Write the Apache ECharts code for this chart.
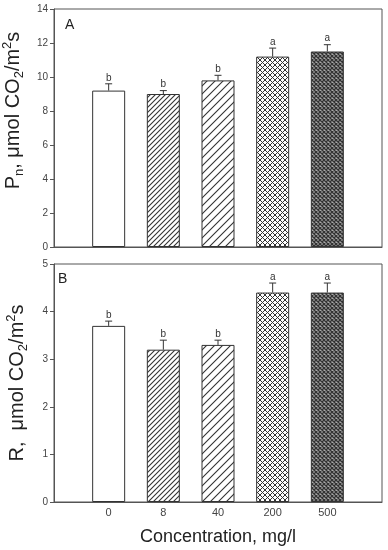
<!DOCTYPE html>
<html><head><meta charset="utf-8">
<script src="https://cdn.jsdelivr.net/npm/echarts@6/dist/echarts.min.js"></script>
<style>html,body{margin:0;padding:0;background:#fff}#c{width:388px;height:550px}</style>
</head><body><div id="c"></div>
<script>
var categories = ['0', '8', '40', '200', '500'];
var pnValues = [9.2, 9.0, 9.8, 11.2, 11.5];
var pnErrTops = [9.6, 9.2, 10.1, 11.7, 11.9];
var pnLetters = ['b', 'b', 'b', 'a', 'a'];
var rValues = [3.7, 3.2, 3.3, 4.4, 4.4];
var rErrTops = [3.8, 3.4, 3.4, 4.6, 4.6];
var rLetters = ['b', 'b', 'b', 'a', 'a'];
var pnTicks = [0, 14, 2];
var rTicks = [0, 5, 1];

function hatch(p, lw) {
  var c = document.createElement('canvas'); c.width = p; c.height = p;
  var g = c.getContext('2d'); g.fillStyle = '#fff'; g.fillRect(0, 0, p, p);
  g.strokeStyle = '#333'; g.lineWidth = lw;
  g.beginPath();
  g.moveTo(-1, p + 1); g.lineTo(p + 1, -1);
  g.moveTo(-1, 1); g.lineTo(1, -1);
  g.moveTo(p - 1, p + 1); g.lineTo(p + 1, p - 1);
  g.stroke();
  return c;
}
function cross(p, lw, bg, col) {
  var c = document.createElement('canvas'); c.width = p; c.height = p;
  var g = c.getContext('2d'); g.fillStyle = bg; g.fillRect(0, 0, p, p);
  g.strokeStyle = col; g.lineWidth = lw;
  g.beginPath();
  for (var k = -1; k <= 1; k++) {
    g.moveTo(k * p - 1, p + 1); g.lineTo(k * p + p + 1, -1);
    g.moveTo(k * p - 1, -1); g.lineTo(k * p + p + 1, p + 1);
  }
  g.stroke();
  return c;
}
var fills = [
  '#ffffff',
  { image: hatch(5, 1.1), repeat: 'repeat' },
  { image: hatch(8, 1.1), repeat: 'repeat' },
  { image: cross(5, 1.0, '#fff', '#333'), repeat: 'repeat' },
  { image: cross(4, 1.3, '#aaa', '#333'), repeat: 'repeat' }
];

function barData(vals) {
  return vals.map(function (v, i) { return { value: [i, v], itemStyle: { color: fills[i] } }; });
}
function errData(vals, tops) {
  return vals.map(function (v, i) { return [i, v, tops[i]]; });
}
function makeRenderErr(letters) {
  return function (params, api) {
    var b = api.coord([api.value(0), api.value(1)]);
    var t = api.coord([api.value(0), api.value(2)]);
    var st = { stroke: '#333', lineWidth: 1 };
    return { type: 'group', children: [
      { type: 'line', shape: { x1: b[0], y1: b[1], x2: t[0], y2: t[1] }, style: st },
      { type: 'line', shape: { x1: t[0] - 3.5, y1: t[1], x2: t[0] + 3.5, y2: t[1] }, style: st },
      { type: 'text', style: { text: letters[params.dataIndex], x: t[0], y: t[1] - 1, align: 'center', verticalAlign: 'bottom', fill: '#333', font: '10px "Liberation Sans", Arial, sans-serif' } }
    ]};
  };
}

var font = '"Liberation Sans", Arial, sans-serif';
var rich = {
  n: { fontSize: 20, lineHeight: 25, color: '#222', fontFamily: font },
  s: { fontSize: 13, verticalAlign: 'bottom', color: '#222', fontFamily: font },
  p: { fontSize: 13, verticalAlign: 'top', color: '#222', fontFamily: font }
};
function xAx(idx, showLabels) {
  return { type: 'value', gridIndex: idx, min: -1, max: 5, interval: 1,
    axisLine: { show: true, onZero: false, lineStyle: { color: '#555', width: 1 } },
    axisTick: { show: false }, splitLine: { show: false },
    axisLabel: { show: showLabels, margin: 5, fontSize: 11, color: '#444', fontFamily: font,
      formatter: function (v) { return categories[v] !== undefined ? categories[v] : ''; } } };
}
function yAx(idx, t, name, pad) {
  return { type: 'value', gridIndex: idx, min: t[0], max: t[1], interval: t[2],
    axisLine: { show: true, onZero: false, lineStyle: { color: '#555', width: 1 } },
    axisTick: { show: true, inside: false, length: 4, lineStyle: { color: '#555' } },
    splitLine: { show: false },
    axisLabel: { margin: 6, fontSize: 10, color: '#444', fontFamily: font },
    name: name, nameLocation: 'middle', nameGap: 24,
    nameTextStyle: { rich: rich, padding: pad } };
}

var chart = echarts.init(document.getElementById('c'), null, { renderer: 'canvas' });
chart.setOption({
  animation: false,
  backgroundColor: '#fff',
  grid: [
    { left: 54, top: 9, width: 328, height: 238, show: true, borderColor: '#555', borderWidth: 1, backgroundColor: 'transparent', outerBoundsMode: 'none', containLabel: false },
    { left: 54, top: 264, width: 328, height: 238, show: true, borderColor: '#555', borderWidth: 1, backgroundColor: 'transparent', outerBoundsMode: 'none', containLabel: false }
  ],
  xAxis: [xAx(0, false), Object.assign(xAx(1, true), {
    name: 'Concentration, mg/l', nameLocation: 'middle', nameGap: 26,
    nameTextStyle: { fontSize: 18, color: '#222', fontFamily: font } })],
  yAxis: [
    yAx(0, pnTicks, '{n|P}{s|n}{n|, μmol CO}{s|2}{n|/m}{p|2}{n|s}', [0, 0, 0, 35]),
    yAx(1, rTicks, '{n|R,  μmol CO}{s|2}{n|/m}{p|2}{n|s}', [0, 0, 0, 0])
  ],
  graphic: [
    { type: 'text', left: 65, top: 18, style: { text: 'A', fontSize: 14, fill: '#222', fontFamily: font } },
    { type: 'text', left: 58, top: 272, style: { text: 'B', fontSize: 14, fill: '#222', fontFamily: font } }
  ],
  series: [
    { type: 'bar', xAxisIndex: 0, yAxisIndex: 0, barWidth: 33, data: barData(pnValues),
      itemStyle: { borderColor: '#333', borderWidth: 1 } },
    { type: 'custom', xAxisIndex: 0, yAxisIndex: 0, renderItem: makeRenderErr(pnLetters),
      dimensions: ['x', 'lo', 'hi'], encode: { x: 0, y: [1, 2] }, data: errData(pnValues, pnErrTops), z: 5 },
    { type: 'bar', xAxisIndex: 1, yAxisIndex: 1, barWidth: 33, data: barData(rValues),
      itemStyle: { borderColor: '#333', borderWidth: 1 } },
    { type: 'custom', xAxisIndex: 1, yAxisIndex: 1, renderItem: makeRenderErr(rLetters),
      dimensions: ['x', 'lo', 'hi'], encode: { x: 0, y: [1, 2] }, data: errData(rValues, rErrTops), z: 5 }
  ]
});
</script></body></html>
